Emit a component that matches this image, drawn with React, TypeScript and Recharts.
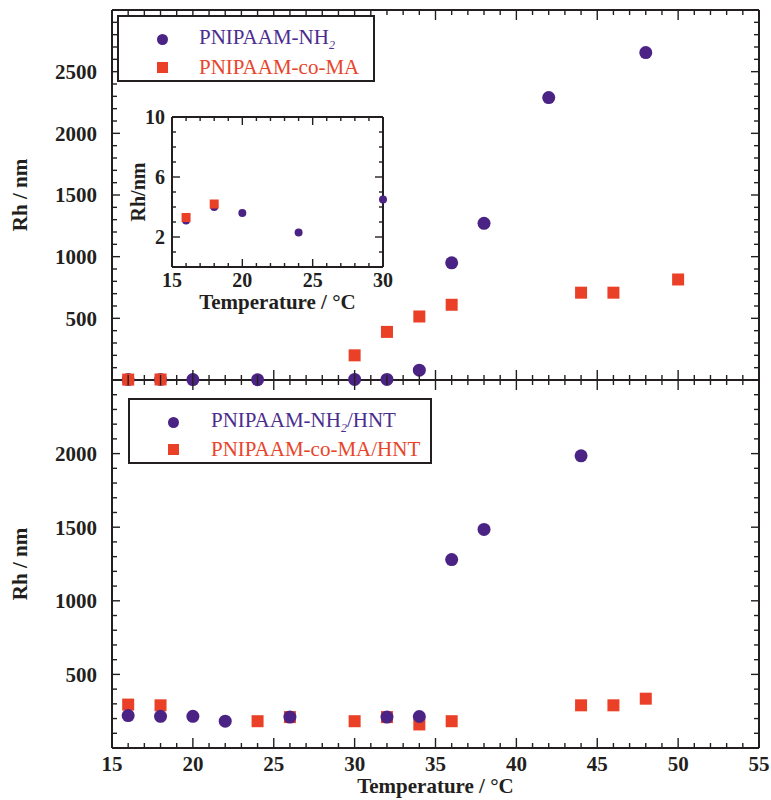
import { ScatterChart, Scatter, XAxis, YAxis, Legend } from "recharts";

// Rh vs temperature
const nh2Temps = [16, 18, 20, 24, 30, 32, 34, 36, 38, 42, 48];
const nh2Rh = [3.1, 4.0, 3.6, 2.3, 4.5, 5, 80, 950, 1270, 2290, 2655];
const maTemps = [16, 18, 30, 32, 34, 36, 44, 46, 50];
const maRh = [3.3, 4.2, 200, 390, 515, 610, 708, 708, 815];
const nh2HntTemps = [16, 18, 20, 22, 26, 32, 34, 36, 38, 44];
const nh2HntRh = [220, 215, 215, 182, 210, 210, 214, 1280, 1485, 1985];
const maHntTemps = [16, 18, 24, 26, 30, 32, 34, 36, 44, 46, 48];
const maHntRh = [295, 290, 182, 210, 182, 210, 160, 182, 290, 290, 335];

const xLabels = [15, 20, 25, 30, 35, 40, 45, 50, 55];
const topYLabels = [500, 1000, 1500, 2000, 2500];
const bottomYLabels = [500, 1000, 1500, 2000];
const insetXLabels = [15, 20, 25, 30];
const insetYLabels = [2, 6, 10];

const INK = "#231f20";
const PURPLE = "#4a2384";
const RED = "#ea4027";
const FONT = '"Liberation Serif", "Times New Roman", serif';

const pts = (ts: number[], rs: number[]) => ts.map((t, i) => ({ t, rh: rs[i] }));
const range = (a: number, b: number, s: number) => {
  const r: number[] = [];
  for (let v = a; v <= b; v += s) r.push(v);
  return r;
};

const nh2 = pts(nh2Temps, nh2Rh);
const ma = pts(maTemps, maRh);
const nh2Hnt = pts(nh2HntTemps, nh2HntRh);
const maHnt = pts(maHntTemps, maHntRh);
// inset only shows the small-size points below 30 °C
const nh2Inset = nh2.filter((d) => d.t <= 30 && d.rh <= 10);
const maInset = ma.filter((d) => d.t <= 30 && d.rh <= 10);

const xTicks = range(15, 55, 1);
const topYTicks = range(0, 3000, 100);
const bottomYTicks = range(0, 2500, 100);
const insetXTicks = range(15, 30, 1);
const insetYTicks = range(0, 10, 1);

const TW = 1.4;

// bottom-axis tick: up (or both ways on the shared middle line), plus the matching
// tick hanging down from the top frame
const xTick = (o: { both?: boolean; frameTop?: number; labels?: number[]; major?: number; minor?: number; dy?: number; size?: number }) => (props: any) => {
  const { x, y, payload } = props;
  const { both = false, frameTop, labels, major = 10, minor = 5, dy = 23, size = 21 } = o;
  const v = payload.value;
  const l = v % 5 === 0 ? major : minor;
  return (
    <g>
      <line x1={x} y1={y - l} x2={x} y2={both ? y + l : y} stroke={INK} strokeWidth={TW} />
      {frameTop !== undefined && <line x1={x} y1={frameTop} x2={x} y2={frameTop + l} stroke={INK} strokeWidth={TW} />}
      {labels && labels.includes(v) && (
        <text x={x} y={y + dy} textAnchor="middle" fontFamily={FONT} fontWeight="bold" fontSize={size} fill={INK}>
          {v}
        </text>
      )}
    </g>
  );
};

// left-axis tick pointing in, plus the matching tick on the right frame
const yTick = (o: { isMajor: (v: number) => boolean; frameRight: number; labels?: number[]; major?: number; minor?: number; dx?: number; size?: number }) => (props: any) => {
  const { x, y, payload } = props;
  const { isMajor, frameRight, labels, major = 8, minor = 5, dx = 15, size = 21 } = o;
  const v = payload.value;
  const l = isMajor(v) ? major : minor;
  return (
    <g>
      <line x1={x} y1={y} x2={x + l} y2={y} stroke={INK} strokeWidth={TW} />
      <line x1={frameRight - l} y1={y} x2={frameRight} y2={y} stroke={INK} strokeWidth={TW} />
      {labels && labels.includes(v) && (
        <text x={x - dx} y={y} dy="0.35em" textAnchor="end" fontFamily={FONT} fontWeight="bold" fontSize={size} fill={INK}>
          {v}
        </text>
      )}
    </g>
  );
};

const yTitle = (text: string, cx: number, size: number) => (props: any) => {
  const vb = props.viewBox;
  const cy = vb.y + vb.height / 2;
  return (
    <text x={cx} y={cy} dy="0.35em" transform={`rotate(-90 ${cx} ${cy})`} textAnchor="middle"
      fontFamily={FONT} fontWeight="bold" fontSize={size} fill={INK}>
      {text}
    </text>
  );
};

const xTitle = (dy: number) => (props: any) => {
  const vb = props.viewBox;
  return (
    <text x={vb.x + vb.width / 2} y={vb.y + dy} textAnchor="middle" fontFamily={FONT} fontWeight="bold" fontSize={21} fill={INK}>
      Temperature / °C
    </text>
  );
};

const circle = (r: number) => (p: any) => <circle cx={p.cx} cy={p.cy} r={r} fill={PURPLE} />;
const square = (s: number) => (p: any) => <rect x={p.cx - s / 2} y={p.cy - s / 2} width={s} height={s} fill={RED} />;

function fmtName(name: string) {
  const [a, b] = name.split("NH2");
  if (b === undefined) return name;
  return (
    <>
      {a}NH<sub style={{ fontSize: 12, fontStyle: "italic" }}>2</sub>
      {b}
    </>
  );
}

function LegendBox({ payload, w, h, markerX, textX, rows }: any) {
  const rank = (p: any) => (p.type === "circle" ? 0 : 1);
  const items = [...(payload || [])].sort((p: any, q: any) => rank(p) - rank(q));
  return (
    <div style={{ width: w, height: h, boxSizing: "border-box", border: `2px solid ${INK}`, position: "relative", background: "#fff", fontFamily: FONT, fontSize: 21 }}>
      {items.map((e: any, i: number) => (
        <div key={i}>
          <div style={{ position: "absolute", left: markerX - 5.5, top: rows[i] - 5.5, width: 11, height: 11, borderRadius: e.type === "circle" ? "50%" : 0, background: e.color }} />
          <div style={{ position: "absolute", left: textX, top: rows[i], transform: "translateY(-50%)", color: e.type === "circle" ? "#4b2d8e" : "#e8452b", whiteSpace: "nowrap", lineHeight: 1 }}>
            {fmtName(e.value)}
          </div>
        </div>
      ))}
    </div>
  );
}

const axisLine = { stroke: INK, strokeWidth: 2 };
const common = { tickSize: 0, tickMargin: 0, tickLine: false, interval: 0 as const, axisLine };
const every500 = (v: number) => v % 500 === 0;
const insetMajor = (v: number) => v % 4 === 2;

export default function App() {
  return (
    <div style={{ position: "absolute", left: 0, top: 0, width: 771, height: 800, background: "#fff", overflow: "hidden" }}>
      {/* lower panel */}
      <div style={{ position: "absolute", left: 0, top: 378 }}>
        <ScatterChart width={771} height={422} margin={{ top: 1, right: 11, bottom: 0, left: 0 }}>
          <XAxis xAxisId="b" type="number" dataKey="t" domain={[15, 55]} ticks={xTicks} height={52} {...common}
            tick={xTick({ labels: xLabels })} label={xTitle(45)} />
          <XAxis xAxisId="top" orientation="top" type="number" dataKey="t" domain={[15, 55]} height={1} {...common} tick={false} />
          <YAxis yAxisId="l" type="number" dataKey="rh" domain={[0, 2500]} ticks={bottomYTicks} width={112} {...common}
            tick={yTick({ isMajor: every500, frameRight: 759, labels: bottomYLabels })} label={yTitle("Rh / nm", 20, 21)} />
          <YAxis yAxisId="r" orientation="right" type="number" dataKey="rh" domain={[0, 2500]} width={1} {...common} tick={false} />
          <Legend layout="horizontal" verticalAlign="middle" align="center" wrapperStyle={{ left: 128, top: 20 }}
            content={<LegendBox w={304} h={66} markerX={43} textX={81} rows={[22, 49]} />} />
          <Scatter xAxisId="b" yAxisId="l" name="PNIPAAM-co-MA/HNT" data={maHnt} fill={RED} legendType="square" shape={square(12)} isAnimationActive={false} />
          <Scatter xAxisId="b" yAxisId="l" name="PNIPAAM-NH2/HNT" data={nh2Hnt} fill={PURPLE} legendType="circle" shape={circle(6.5)} isAnimationActive={false} />
        </ScatterChart>
      </div>

      {/* upper panel */}
      <div style={{ position: "absolute", left: 0, top: 0 }}>
        <ScatterChart width={771} height={392} margin={{ top: 9, right: 11, bottom: 11, left: 0 }}>
          <XAxis xAxisId="b" type="number" dataKey="t" domain={[15, 55]} ticks={xTicks} height={1} {...common}
            tick={xTick({ both: true, frameTop: 10 })} />
          <XAxis xAxisId="top" orientation="top" type="number" dataKey="t" domain={[15, 55]} height={1} {...common} tick={false} />
          <YAxis yAxisId="l" type="number" dataKey="rh" domain={[0, 3000]} ticks={topYTicks} width={112} {...common}
            tick={yTick({ isMajor: every500, frameRight: 759, labels: topYLabels })} label={yTitle("Rh / nm", 20, 21)} />
          <YAxis yAxisId="r" orientation="right" type="number" dataKey="rh" domain={[0, 3000]} width={1} {...common} tick={false} />
          <Legend layout="horizontal" verticalAlign="middle" align="center" wrapperStyle={{ left: 117, top: 15 }}
            content={<LegendBox w={258} h={67} markerX={43} textX={80} rows={[22, 50]} />} />
          <Scatter xAxisId="b" yAxisId="l" name="PNIPAAM-NH2" data={nh2} fill={PURPLE} legendType="circle" shape={circle(6.5)} isAnimationActive={false} />
          <Scatter xAxisId="b" yAxisId="l" name="PNIPAAM-co-MA" data={ma} fill={RED} legendType="square" shape={square(12)} isAnimationActive={false} />
        </ScatterChart>
      </div>

      {/* inset: low temperature detail */}
      <div style={{ position: "absolute", left: 100, top: 100 }}>
        <ScatterChart width={300} height={220} margin={{ top: 16, right: 16, bottom: 0, left: 0 }}>
          <XAxis xAxisId="b" type="number" dataKey="t" domain={[15, 30]} ticks={insetXTicks} height={53} {...common}
            tick={xTick({ frameTop: 17, labels: insetXLabels, major: 8, minor: 4, dy: 20, size: 20 })} label={xTitle(42)} />
          <XAxis xAxisId="top" orientation="top" type="number" dataKey="t" domain={[15, 30]} height={1} {...common} tick={false} />
          <YAxis yAxisId="l" type="number" dataKey="rh" domain={[0, 10]} ticks={insetYTicks} width={72} {...common}
            tick={yTick({ isMajor: insetMajor, frameRight: 283, labels: insetYLabels, major: 8, minor: 4, dx: 7, size: 20 })}
            label={yTitle("Rh/nm", 38, 20)} />
          <YAxis yAxisId="r" orientation="right" type="number" dataKey="rh" domain={[0, 10]} width={1} {...common} tick={false} />
          <Scatter xAxisId="b" yAxisId="l" name="PNIPAAM-NH2" data={nh2Inset} fill={PURPLE} shape={circle(4)} isAnimationActive={false} />
          <Scatter xAxisId="b" yAxisId="l" name="PNIPAAM-co-MA" data={maInset} fill={RED} shape={square(9)} isAnimationActive={false} />
        </ScatterChart>
      </div>
    </div>
  );
}
